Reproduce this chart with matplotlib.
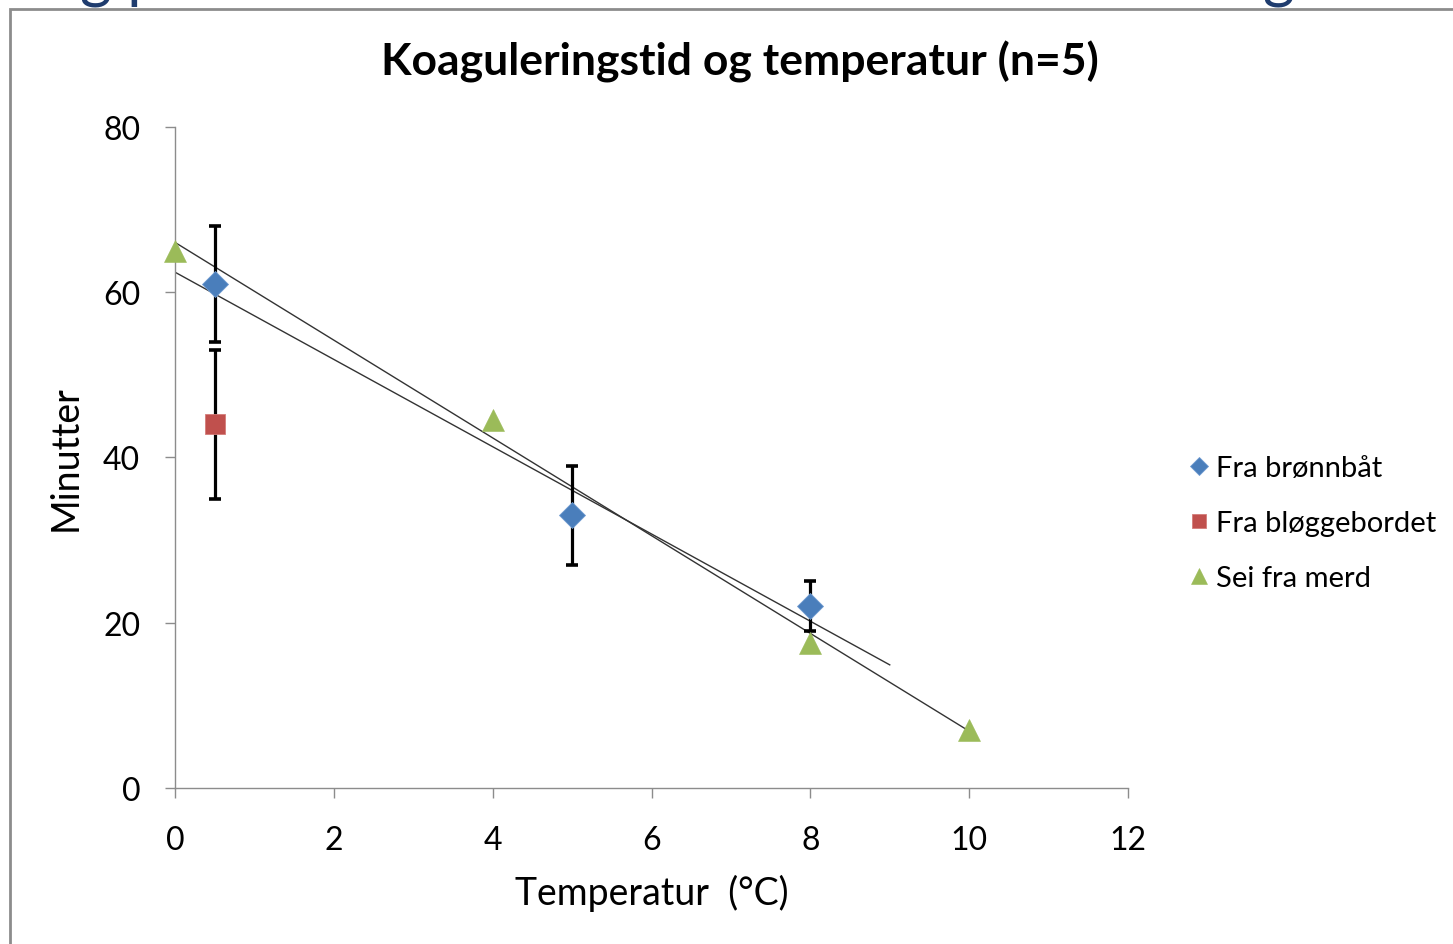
import matplotlib
matplotlib.use("Agg")
import matplotlib.pyplot as plt
from matplotlib.patches import Rectangle
import numpy as np

# data
bronnbat_x = [0.5, 5, 8]
bronnbat_y = [61, 33, 22]
bronnbat_err = [7, 6, 3]

bloggebordet_x = [0.5]
bloggebordet_y = [44]
bloggebordet_err = [9]

merd_x = [0, 4, 8, 10]
merd_y = [65, 44.5, 17.5, 7]

x_ticks = [0, 2, 4, 6, 8, 10, 12]
y_ticks = [0, 20, 40, 60, 80]

BLUE = "#4a7ebb"
RED = "#c0504d"
GREEN = "#9bbb59"
FONT = ["Lato", "DejaVu Sans"]

plt.rcParams["font.family"] = FONT

fig = plt.figure(figsize=(14.53, 9.45), dpi=100, facecolor="white")

# slide frame and clipped heading above it
fig.patches.append(Rectangle((10 / 1453, -0.1), 2.0, 1.1 - 10 / 945,
                             transform=fig.transFigure, fill=False,
                             edgecolor="#8c8c8c", linewidth=2.0))
fig.text(80 / 1453, 1 + 4 / 945, "g p", color="#1f3c6e", fontsize=44,
         va="baseline", ha="left")
fig.text(1262 / 1453, 1 + 4 / 945, "g", color="#1f3c6e", fontsize=44,
         va="baseline", ha="left")

ax = fig.add_axes([175 / 1453, 1 - 789 / 945, (1128 - 175) / 1453, (789 - 128) / 945])
ax.set_xlim(0, 12)
ax.set_ylim(0, 80)
ax.set_xticks(x_ticks)
ax.set_yticks(y_ticks)
for side in ("top", "right"):
    ax.spines[side].set_visible(False)
for side in ("left", "bottom"):
    ax.spines[side].set_color("#8c8c8c")
    ax.spines[side].set_linewidth(1.0)
ax.tick_params(axis="both", direction="out", length=7, width=1.0,
               color="#8c8c8c", labelsize=23, labelcolor="black")
ax.tick_params(axis="x", pad=20)
ax.tick_params(axis="y", pad=18)

# linear trendlines
p1 = np.polyfit(bronnbat_x, bronnbat_y, 1)
t1 = np.array([0, 9])
ax.plot(t1, np.polyval(p1, t1), color="#333333", lw=1.0, zorder=2)
p2 = np.polyfit(merd_x, merd_y, 1)
t2 = np.array([0, 10])
ax.plot(t2, np.polyval(p2, t2), color="#333333", lw=1.0, zorder=2)

err_kw = dict(ecolor="black", elinewidth=2.3, capsize=4.5, capthick=2.6, ls="none")
ax.errorbar(bloggebordet_x, bloggebordet_y, yerr=bloggebordet_err, zorder=3, **err_kw)
ax.errorbar(bronnbat_x, bronnbat_y, yerr=bronnbat_err, zorder=3, **err_kw)

ax.plot(bronnbat_x, bronnbat_y, "D", color=BLUE, ms=13, mec="#6f9bd1", mew=0.6,
        ls="none", zorder=4, label="Fra brønnbåt", clip_on=False)
ax.plot(bloggebordet_x, bloggebordet_y, "s", color=RED, ms=14.5, mec="#d47c79", mew=0.6,
        ls="none", zorder=4, label="Fra bløggebordet", clip_on=False)
ax.plot(merd_x, merd_y, "^", color=GREEN, ms=16, mec=GREEN, mew=0.4,
        ls="none", zorder=4, label="Sei fra merd", clip_on=False)

fig.text(740 / 1453, 1 - 62 / 945, "Koaguleringstid og temperatur (n=5)",
         fontsize=32, fontweight="bold", ha="center", va="center")
ax.set_xlabel("Temperatur  (°C)", fontsize=27, labelpad=13)
ax.set_ylabel("Minutter", fontsize=27, labelpad=14)

leg = fig.legend(loc="center left", bbox_to_anchor=(1164 / 1453, 1 - 524 / 945),
                 frameon=False, fontsize=21, handlelength=0.6, handletextpad=0.3,
                 labelspacing=1.0, markerscale=0.7)

fig.savefig("out.png", dpi=100, facecolor="white")
